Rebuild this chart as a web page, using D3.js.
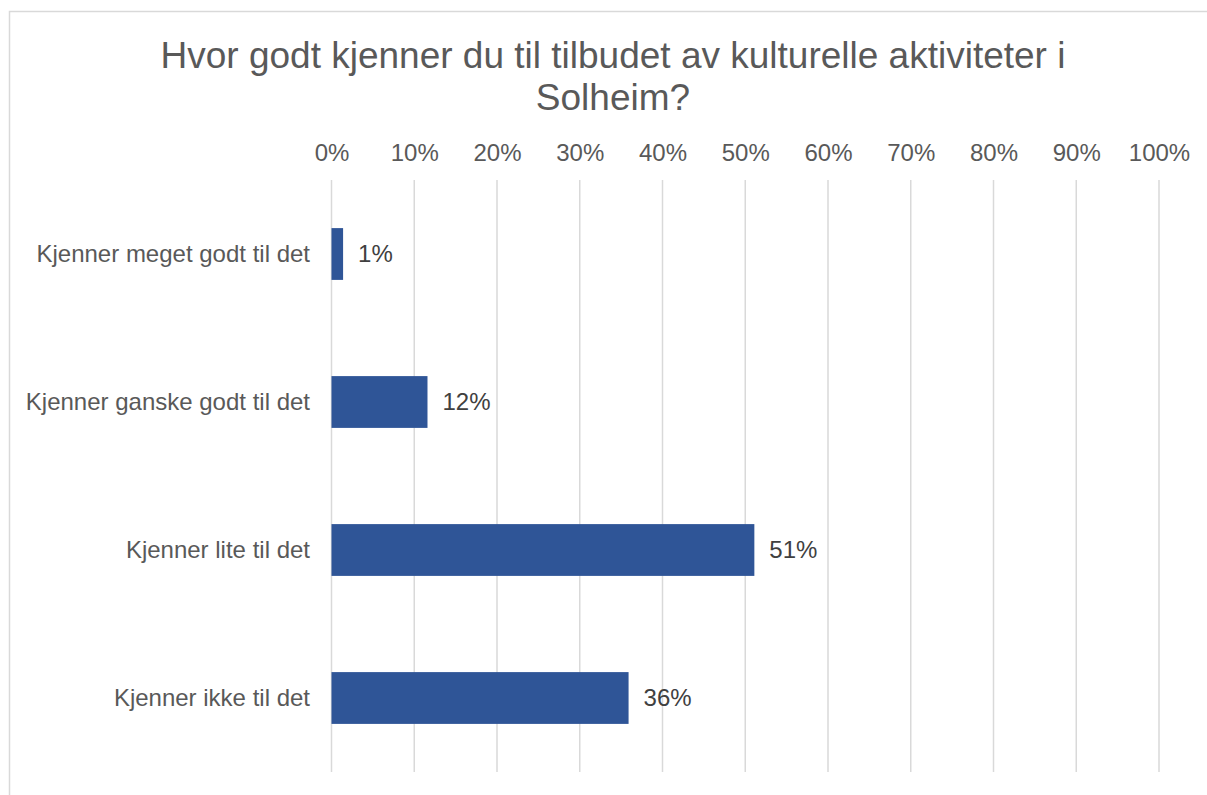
<!DOCTYPE html>
<html><head><meta charset="utf-8">
<script src="https://cdn.jsdelivr.net/npm/d3@7"></script>
<style>body{margin:0;background:#fff;}svg{display:block;font-family:"Liberation Sans",Arial,sans-serif;}</style>
</head><body>
<svg id="c" width="1207" height="795"></svg>
<script>
const categories = ["Kjenner meget godt til det","Kjenner ganske godt til det","Kjenner lite til det","Kjenner ikke til det"];
const values = [0.014, 0.116, 0.511, 0.359];
const valueLabels = ["1%","12%","51%","36%"];
const tickValues = [0,0.1,0.2,0.3,0.4,0.5,0.6,0.7,0.8,0.9,1.0];
const titleLines = ["Hvor godt kjenner du til tilbudet av kulturelle aktiviteter i","Solheim?"];

const svg = d3.select("#c");
const textColor = "#595959";
// chart border
svg.append("rect").attr("x",9.5).attr("y",11.5).attr("width",1210).attr("height",800)
  .attr("fill","#fff").attr("stroke","#d9d9d9").attr("stroke-width",1.5);

const x = d3.scaleLinear().domain([0,1]).range([331.5,1159]);
const y = d3.scaleBand().domain(categories).range([180,772]).paddingInner(0.65).paddingOuter(0.325);

// title
svg.append("text").attr("x",613).attr("y",68).attr("text-anchor","middle")
  .attr("fill",textColor).style("font-size","37px")
  .selectAll("tspan").data(titleLines).join("tspan")
  .attr("x",613).attr("dy",(d,i)=>i===0?0:42).text(d=>d);

// gridlines
svg.append("g").selectAll("line").data(tickValues).join("line")
  .attr("x1",d=>x(d)).attr("x2",d=>x(d)).attr("y1",180).attr("y2",772)
  .attr("stroke","#d9d9d9").attr("stroke-width",1.5);

// top axis labels
const ax = svg.append("g").attr("transform","translate(0,161)")
  .call(d3.axisTop(x).tickValues(tickValues).tickFormat(d3.format(".0%")).tickSize(0).tickPadding(0));
ax.select(".domain").remove();
ax.selectAll("text").attr("fill",textColor).style("font-size","24px").attr("dy","0");

// category axis
const ay = svg.append("g").attr("transform","translate(331,0)")
  .call(d3.axisLeft(y).tickSize(0).tickPadding(21));
ay.select(".domain").remove();
ay.selectAll("text").attr("fill",textColor).style("font-size","24px");

// bars
svg.append("g").selectAll("rect").data(values).join("rect")
  .attr("x",x(0)).attr("y",(d,i)=>y(categories[i]))
  .attr("width",d=>x(d)-x(0)).attr("height",y.bandwidth())
  .attr("fill","#2F5597");

// value labels
svg.append("g").selectAll("text").data(values).join("text")
  .attr("x",d=>x(d)+15).attr("y",(d,i)=>y(categories[i])+y.bandwidth()/2)
  .attr("dy","0.35em").attr("fill","#404040").style("font-size","24px")
  .text((d,i)=>valueLabels[i]);
</script>
</body></html>
